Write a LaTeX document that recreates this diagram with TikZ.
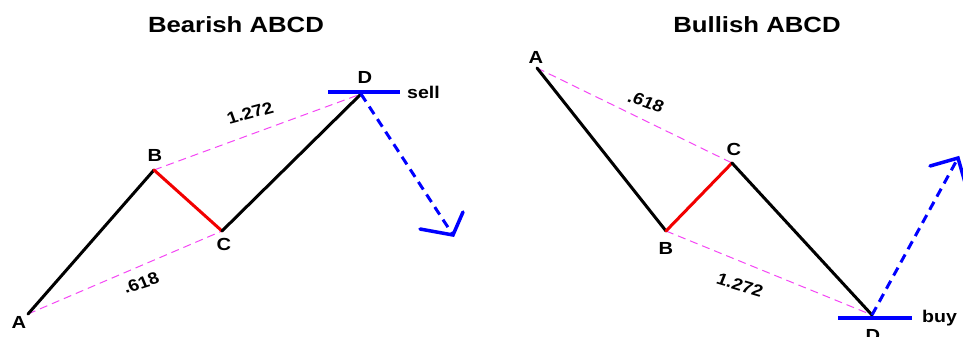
\documentclass[tikz,border=0pt]{standalone}
\usepackage{fontspec}
\setmainfont{Liberation Sans}
\definecolor{guidepink}{RGB}{245,70,245}
\begin{document}
\begin{tikzpicture}[x=1pt,y=-1pt,
  leg/.style={line width=3pt,black,line cap=round},
  redleg/.style={line width=3pt,red!95!black,line cap=round},
  guide/.style={line width=1pt,guidepink,dash pattern=on 8pt off 5pt},
  level/.style={line width=3.5pt,blue},
  move/.style={line width=3pt,blue,dash pattern=on 9pt off 6pt},
  barb/.style={line width=3.5pt,blue,line cap=round},
  title/.style={xscale=1.17,font=\fontsize{22}{26}\selectfont\bfseries},
  pt/.style={xscale=1.15,font=\fontsize{17.5}{20}\selectfont\bfseries,inner sep=0pt},
  ratio/.style={font=\fontsize{16.5}{19}\selectfont\bfseries,inner sep=0pt},
  side/.style={xscale=1.15,font=\fontsize{17}{19}\selectfont\bfseries,inner sep=0pt,anchor=west}]
\useasboundingbox (0,0) rectangle (963,337);
\clip (0,0) rectangle (963,337);
\fill[white] (0,0) rectangle (963,337);
% ---------- Bearish ----------
\node[title] (t1) at (236,25) {Bearish ABCD};
\coordinate (A1) at (28,314);
\coordinate (B1) at (154,170);
\coordinate (C1) at (222,231);
\coordinate (D1) at (361,94);
\coordinate (T1) at (453,235);
\coordinate (L1a) at (420,229);
\coordinate (L1b) at (463,212);
\coordinate (S1a) at (328,92);
\coordinate (S1b) at (400,92);
\draw[guide] (A1) -- (C1);
\draw[guide] (B1) -- (D1);
\draw[leg] (A1) -- (B1);
\draw[redleg] (B1) -- (C1);
\draw[leg] (C1) -- (D1);
\draw[level] (S1a) -- (S1b);
\draw[move] (D1) -- (T1);
\draw[barb] (L1a) -- (T1) -- (L1b);
\node[pt] (a1) at (19,322) {A};
\node[pt] (b1) at (155,155) {B};
\node[pt] (c1) at (224,244) {C};
\node[pt] (d1) at (365,77) {D};
\node[side] (s1) at (407,92) {sell};
\node[ratio,xscale=1.15,rotate=20] (r1) at (141,283) {.618};
\node[ratio,xscale=1.15,rotate=17.3] (r2) at (250,113) {1.272};
% ---------- Bullish ----------
\node[title] (t2) at (757,25) {Bullish ABCD};
\coordinate (A2) at (537,68);
\coordinate (B2) at (666,231);
\coordinate (C2) at (732,163);
\coordinate (D2) at (872,315);
\coordinate (T2) at (958,158);
\coordinate (L2a) at (930,166);
\coordinate (L2b) at (966,186);
\coordinate (S2a) at (838,318);
\coordinate (S2b) at (912,318);
\draw[guide] (A2) -- (C2);
\draw[guide] (B2) -- (D2);
\draw[leg] (A2) -- (B2);
\draw[redleg] (B2) -- (C2);
\draw[leg] (C2) -- (D2);
\draw[level] (S2a) -- (S2b);
\draw[move] (D2) -- (T2);
\draw[barb] (L2a) -- (T2) -- (L2b);
\node[pt] (a2) at (536,57) {A};
\node[pt] (b2) at (666,248) {B};
\node[pt] (c2) at (734,149) {C};
\node[pt] (d2) at (873,335) {D};
\node[side] (s2) at (922,318) {buy};
\node[ratio,xscale=1.15,rotate=-22.6] (r3) at (646,102) {.618};
\node[ratio,xscale=1.15,rotate=-19] (r4) at (740,285) {1.272};
\end{tikzpicture}
\end{document}
